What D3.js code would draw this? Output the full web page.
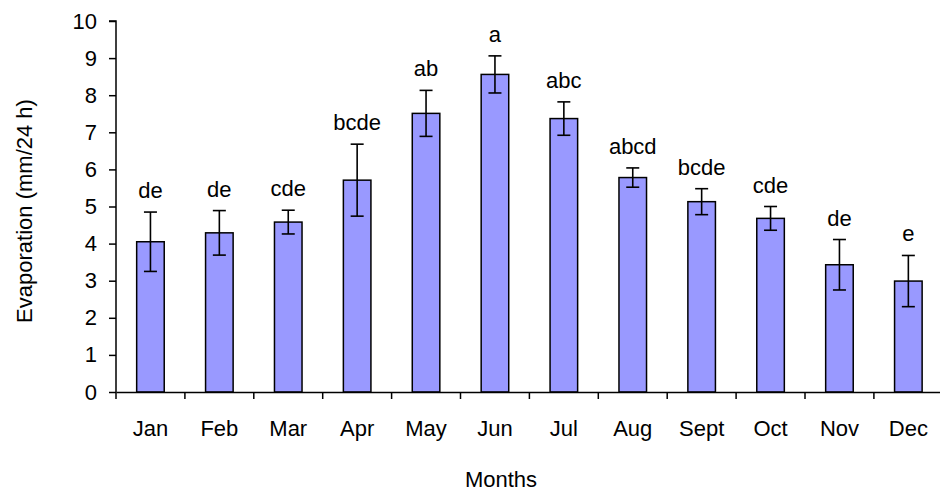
<!DOCTYPE html>
<html>
<head>
<meta charset="utf-8">
<script src="https://cdn.jsdelivr.net/npm/d3@7"></script>
<style>
  body { margin: 0; background: white; }
  text { font-family: "Liberation Sans", Arial, sans-serif; }
</style>
</head>
<body>
<div id="visualization"></div>
<script>
let months = ["Jan","Feb","Mar","Apr","May","Jun","Jul","Aug","Sept","Oct","Nov","Dec"];
let evap = [4.05, 4.29, 4.58, 5.71, 7.51, 8.56, 7.37, 5.78, 5.13, 4.68, 3.43, 2.99];
let errs = [0.80, 0.60, 0.32, 0.97, 0.62, 0.50, 0.45, 0.26, 0.35, 0.32, 0.68, 0.69];
let letters = ["de","de","cde","bcde","ab","a","abc","abcd","bcde","cde","de","e"];
let yTicks = [0,1,2,3,4,5,6,7,8,9,10];

let w = 940;
let h = 493;
let padLeft = 116, padTop = 21, axisY = 392;
let step = 68.9;
let fs = 22;

let viz = d3.select("#visualization")
  .append("svg")
  .attr("width", w)
  .attr("height", h);

let xScale = d3.scaleBand().domain(months).range([padLeft, padLeft + step*months.length]).padding(0);
let yScale = d3.scaleLinear().domain([0,10]).range([axisY, padTop]);
let barW = xScale.bandwidth()*0.4;

// bars
viz.selectAll(".bar").data(months).enter()
  .append("rect")
  .attr("class","bar")
  .attr("x", d => xScale(d) + xScale.bandwidth()/2 - barW/2)
  .attr("y", (d,i) => yScale(evap[i]))
  .attr("width", barW)
  .attr("height", (d,i) => axisY - yScale(evap[i]))
  .attr("fill","#9999ff")
  .attr("stroke","black")
  .attr("stroke-width",1.5);

// error bars
let eg = viz.selectAll(".err").data(months).enter().append("g").attr("class","err")
  .attr("stroke","black").attr("stroke-width",1.6);
eg.append("line")
  .attr("x1", d => xScale(d) + xScale.bandwidth()/2)
  .attr("x2", d => xScale(d) + xScale.bandwidth()/2)
  .attr("y1", (d,i) => yScale(evap[i]+errs[i]))
  .attr("y2", (d,i) => yScale(evap[i]-errs[i]));
[1,-1].forEach(s => {
  eg.append("line")
    .attr("x1", d => xScale(d) + xScale.bandwidth()/2 - 6.5)
    .attr("x2", d => xScale(d) + xScale.bandwidth()/2 + 6.5)
    .attr("y1", (d,i) => yScale(evap[i]+s*errs[i]))
    .attr("y2", (d,i) => yScale(evap[i]+s*errs[i]));
});

// significance letters
viz.selectAll(".lab").data(months).enter()
  .append("text")
  .attr("class","lab")
  .attr("x", d => xScale(d) + xScale.bandwidth()/2)
  .attr("y", (d,i) => yScale(evap[i]+errs[i]) - 14)
  .attr("text-anchor","middle")
  .attr("font-size", fs)
  .text((d,i) => letters[i]);

// y axis
let yAxis = d3.axisLeft(yScale).tickValues(yTicks).tickSize(7).tickPadding(12).tickFormat(d3.format("d"));
let yg = viz.append("g").attr("transform", `translate(${padLeft},0)`).call(yAxis);
yg.select(".domain").attr("d", `M-7,${padTop}H0V${axisY}`).attr("stroke-width",1.5);
yg.selectAll(".tick line").attr("stroke-width",1.5);
yg.selectAll("text").attr("font-size", fs).attr("fill","black").attr("font-family","Liberation Sans, Arial, sans-serif");

// x axis
let xAxis = d3.axisBottom(xScale).tickSize(0).tickPadding(28);
let xg = viz.append("g").attr("transform", `translate(0,${axisY})`).call(xAxis);
xg.select(".domain").attr("stroke-width",1.5);
xg.selectAll("text").attr("font-size", fs).attr("fill","black").attr("font-family","Liberation Sans, Arial, sans-serif");
xg.selectAll(".bound").data(months.concat(["end"])).enter()
  .append("line")
  .attr("class","bound")
  .attr("x1", (d,i) => padLeft + i*xScale.step())
  .attr("x2", (d,i) => padLeft + i*xScale.step())
  .attr("y1", 0).attr("y2", 7)
  .attr("stroke","black").attr("stroke-width",1.5);

// axis titles
viz.append("text")
  .attr("transform", `translate(32,211) rotate(-90)`)
  .attr("text-anchor","middle")
  .attr("font-size", fs)
  .text("Evaporation (mm/24 h)");

viz.append("text")
  .attr("x", 501)
  .attr("y", 487)
  .attr("text-anchor","middle")
  .attr("font-size", fs)
  .text("Months");
</script>
</body>
</html>
